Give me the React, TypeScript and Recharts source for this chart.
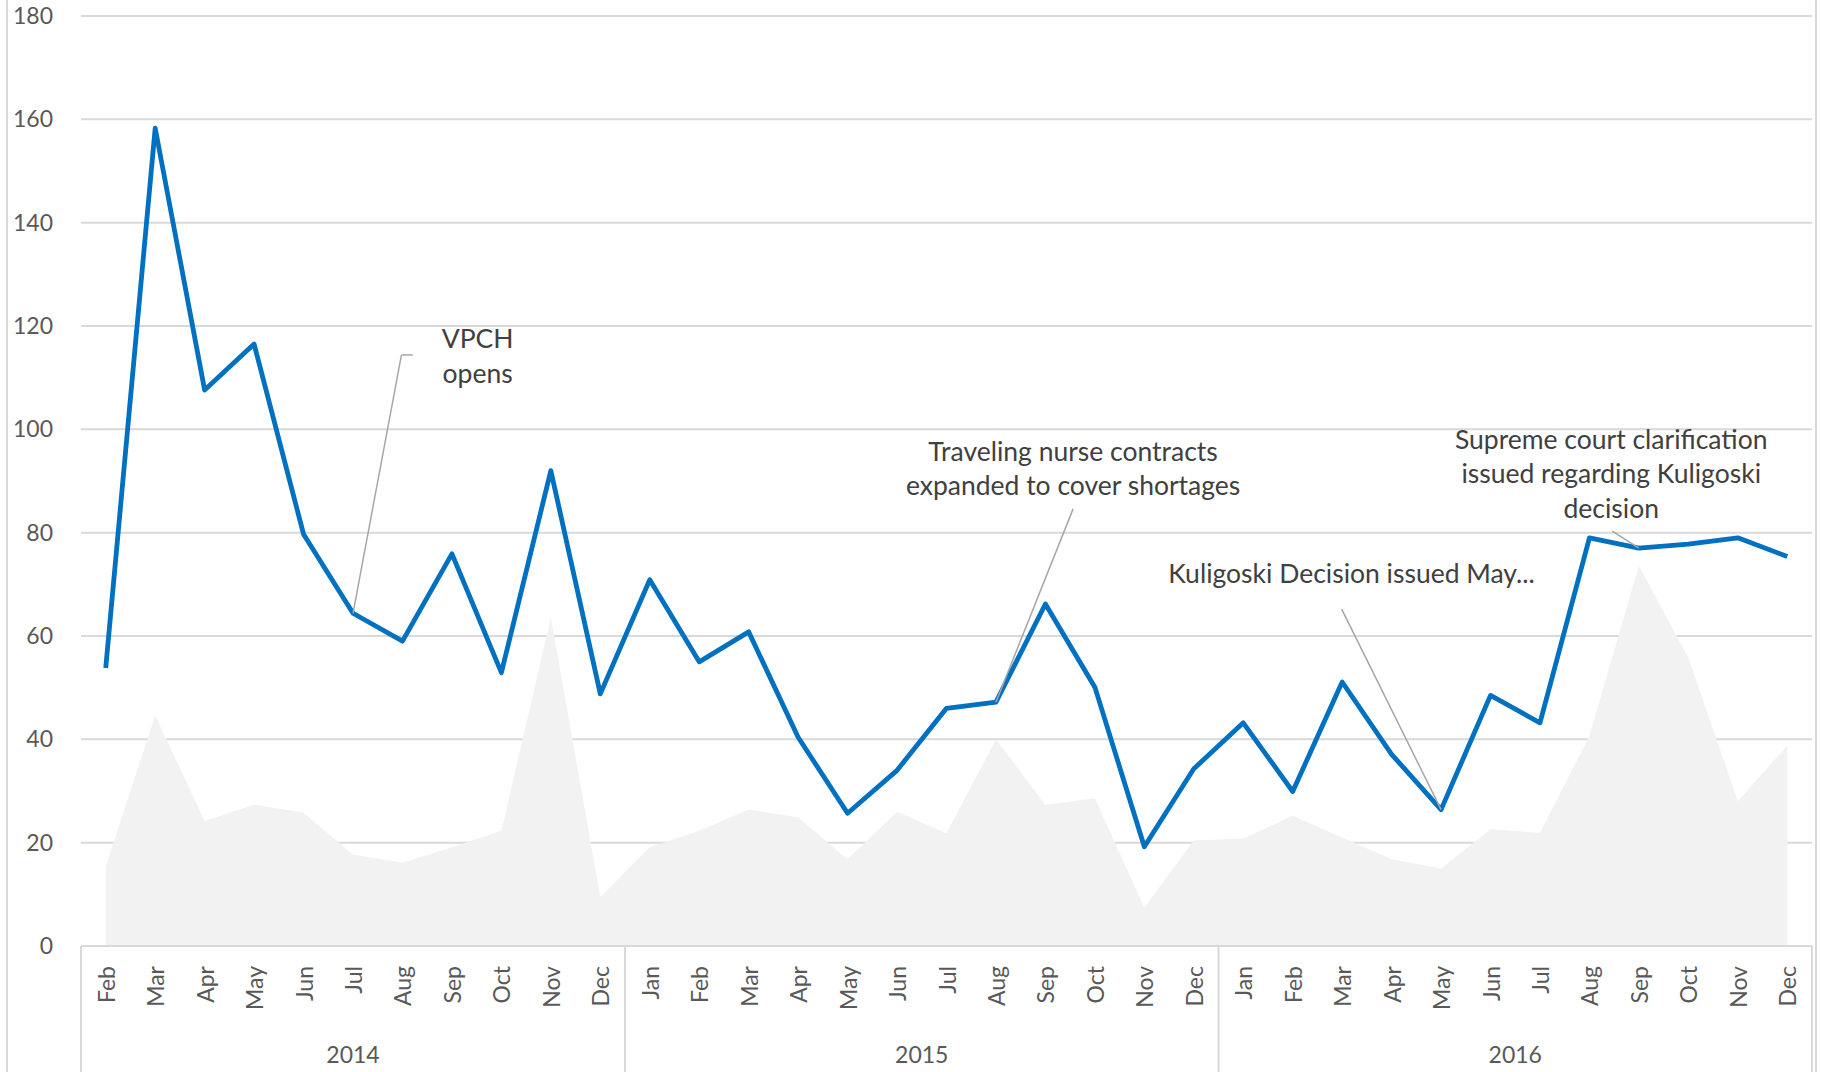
import React from 'react';
import {
  ComposedChart, Area, Line, XAxis, YAxis, CartesianGrid, ReferenceLine, ReferenceDot,
} from 'recharts';

const W = 1821;
const H = 1072;

const monthLabels = [
  'Feb', 'Mar', 'Apr', 'May', 'Jun', 'Jul', 'Aug', 'Sep', 'Oct', 'Nov', 'Dec',
  'Jan', 'Feb', 'Mar', 'Apr', 'May', 'Jun', 'Jul', 'Aug', 'Sep', 'Oct', 'Nov', 'Dec',
  'Jan', 'Feb', 'Mar', 'Apr', 'May', 'Jun', 'Jul', 'Aug', 'Sep', 'Oct', 'Nov', 'Dec',
];
const yearLabels = ['2014', '2015', '2016'];
const monthsPerYear = [11, 12, 12];

// blue line
const mainValues = [
  53.8, 158.3, 107.6, 116.5, 79.7, 64.4, 59, 75.9, 52.9, 92, 48.8,
  70.9, 55, 60.8, 40.4, 25.7, 34, 46, 47.2, 66.2, 50.1, 19.2, 34.3,
  43.2, 29.9, 51.1, 37.1, 26.4, 48.5, 43.2, 79, 77, 77.8, 79, 75.4,
];
// grey area
const areaValues = [
  15.4, 44.6, 24.2, 27.4, 25.8, 17.7, 16.1, 19.1, 22.3, 63.6, 9.5,
  19.1, 22.3, 26.4, 24.9, 16.8, 26, 21.8, 40, 27.3, 28.6, 7.4, 20.4,
  20.8, 25.2, 21, 16.8, 15, 22.6, 21.9, 40.7, 73.6, 55.8, 28, 38.8,
];
const yTicks = [0, 20, 40, 60, 80, 100, 120, 140, 160, 180];

const notes = [
  { x: 7.52, y: 117.3, lines: ['VPCH', 'opens'], from: 5, to: [5.98, 114.4], hook: 6.21 },
  { x: 19.56, y: 95.6, lines: ['Traveling nurse contracts', 'expanded to cover shortages'], from: 18, to: [19.56, 84.6] },
  { x: 25.19, y: 72, lines: ['Kuligoski Decision issued May...'], from: 27, to: [24.99, 65.2] },
  { x: 30.44, y: 97.9, lines: ['Supreme court clarification', 'issued regarding Kuligoski', 'decision'], from: 31, to: [30.46, 80.3] },
];

const yearOf: number[] = [];
const posInYear: number[] = [];
monthsPerYear.forEach((n, g) => {
  for (let p = 0; p < n; p++) {
    yearOf.push(g);
    posInYear.push(p);
  }
});

const data = monthLabels.map((m, i) => ({
  key: `${m}-${yearLabels[yearOf[i]]}`,
  idx: i,
  main: mainValues[i],
  area: areaValues[i],
}));

const FONT = 'Lato, "Open Sans", sans-serif';
const AXIS_COLOR = '#595959';
const GRID = '#d9d9d9';
const PLOT_W = 1731;
const AXIS_H = 126;

function MonthTick(props: any) {
  const { x, y, payload } = props;
  const i = props.index ?? payload.index;
  const half = PLOT_W / monthLabels.length / 2;
  const g = yearOf[i];
  const p = posInYear[i];
  const n = monthsPerYear[g];
  const mid = (n - 1) / 2;
  return (
    <g>
      <text
        x={x} y={y + 20} transform={`rotate(-90, ${x}, ${y + 20})`}
        textAnchor="end" dominantBaseline="central"
        fill={AXIS_COLOR} fontSize={23} fontFamily={FONT}
      >
        {monthLabels[i]}
      </text>
      {p === 0 && <line x1={x - half} x2={x - half} y1={y} y2={y + AXIS_H} stroke={GRID} strokeWidth={2} />}
      {i === monthLabels.length - 1 && <line x1={x + half} x2={x + half} y1={y} y2={y + AXIS_H} stroke={GRID} strokeWidth={2} />}
      {p === Math.floor(mid) && (
        <text
          x={x + (mid - Math.floor(mid)) * 2 * half} y={y + 108}
          textAnchor="middle" dominantBaseline="central"
          fill={AXIS_COLOR} fontSize={23} fontFamily={FONT}
        >
          {yearLabels[g]}
        </text>
      )}
    </g>
  );
}

function NoteText({ cx, cy, lines }: any) {
  return (
    <text x={cx} y={cy} textAnchor="middle" fill="#404040" fontSize={26.5} fontFamily={FONT}>
      {lines.map((t: string, k: number) => (
        <tspan key={k} x={cx} dy={k === 0 ? 8.5 : 34.5}>{t}</tspan>
      ))}
    </text>
  );
}

export default function App() {
  return (
    <div style={{ position: 'absolute', left: 0, top: 0, width: W, height: H, background: '#fff' }}>
      <div style={{ position: 'absolute', left: 6, top: 0, width: 2, height: H, background: GRID }} />
      <div style={{ position: 'absolute', left: 1815, top: 0, width: 2, height: H, background: GRID }} />
      <ComposedChart
        width={W} height={H} data={data}
        margin={{ top: 16, right: 9, bottom: 0, left: 0 }}
        style={{ fontFamily: FONT }}
      >
        <CartesianGrid vertical={false} stroke={GRID} strokeWidth={2} />
        <XAxis
          dataKey="key" scale="band" interval={0} height={AXIS_H}
          tickLine={false} tickSize={0} tickMargin={0}
          axisLine={{ stroke: GRID, strokeWidth: 2 }}
          tick={<MonthTick />}
        />
        <XAxis xAxisId="num" type="number" dataKey="idx" domain={[-0.5, 34.5]} hide />
        <YAxis
          width={81} domain={[0, 180]} ticks={yTicks} interval={0}
          axisLine={false} tickLine={false} tickMargin={22}
          tick={{ fill: AXIS_COLOR, fontSize: 23, fontFamily: FONT }}
        />
        <Area
          dataKey="area" type="linear" stroke="none" fill="#f2f2f2" fillOpacity={1}
          isAnimationActive={false}
        />
        <Line
          dataKey="main" type="linear" stroke="#0070c0" strokeWidth={4.8}
          strokeLinejoin="round" dot={false} activeDot={false}
          isAnimationActive={false}
        />
        {notes.map((n, k) => (
          <ReferenceLine
            key={`l${k}`} xAxisId="num" stroke="#a6a6a6" strokeWidth={1.5}
            segment={[{ x: n.from, y: mainValues[n.from] }, { x: n.to[0], y: n.to[1] }]}
          />
        ))}
        {notes.filter((n) => n.hook !== undefined).map((n, k) => (
          <ReferenceLine
            key={`h${k}`} xAxisId="num" stroke="#a6a6a6" strokeWidth={1.5}
            segment={[{ x: n.to[0], y: n.to[1] }, { x: n.hook as number, y: n.to[1] }]}
          />
        ))}
        {notes.map((n, k) => (
          <ReferenceDot
            key={`t${k}`} xAxisId="num" x={n.x} y={n.y} r={0}
            shape={(p: any) => <NoteText cx={p.cx} cy={p.cy} lines={n.lines} />}
          />
        ))}
      </ComposedChart>
    </div>
  );
}
